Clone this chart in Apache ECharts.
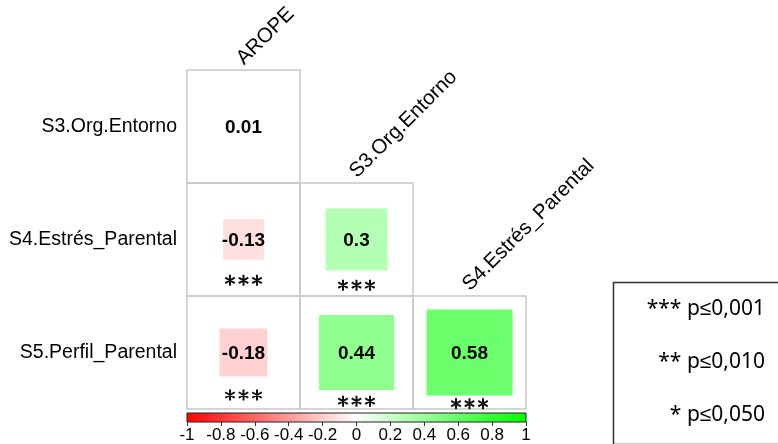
<!DOCTYPE html>
<html><head><meta charset="utf-8">
<script src="https://cdn.jsdelivr.net/npm/echarts@6/dist/echarts.min.js"></script>
<style>html,body{margin:0;padding:0;background:#fff}#c{width:778px;height:444px}</style>
</head><body><div id="c"></div>
<script>
const rowNames = ['S3.Org.Entorno', 'S4.Estrés_Parental', 'S5.Perfil_Parental'];
const colNames = ['AROPE', 'S3.Org.Entorno', 'S4.Estrés_Parental'];
const corrValues = [
  [0.01],
  [-0.13, 0.3],
  [-0.18, 0.44, 0.58]
];
const sigStars = [
  [0],
  [3, 3],
  [3, 3, 3]
];
const colorbarMin = -1, colorbarMax = 1, colorbarStep = 0.2;
const legendLabels = ['*** p≤0,001', '** p≤0,010', '* p≤0,050'];

const FONT = '"Liberation Sans", Arial, sans-serif';
const FONT2 = '"Noto Sans", sans-serif';

function corrColor(v) {
  const t = Math.min(1, Math.abs(v));
  const c = Math.round(255 * (1 - t));
  return v >= 0 ? `rgb(${c},255,${c})` : `rgb(255,${c},${c})`;
}

function starPath(cx, cy, r) {
  let d = '';
  [90, 30, 150].forEach(a => {
    const dx = r * Math.cos(a * Math.PI / 180), dy = r * Math.sin(a * Math.PI / 180);
    d += `M${cx - dx},${cy - dy}L${cx + dx},${cy + dy}`;
  });
  return d;
}

const cellData = [];
corrValues.forEach((row, i) => row.forEach((v, j) => cellData.push([j, i, v, sigStars[i][j]])));
const colLabelData = colNames.map((n, j) => [j, j, n]);

const chart = echarts.init(document.getElementById('c'));
chart.setOption({
  animation: false,
  backgroundColor: '#fff',
  grid: [
    { left: 187, top: 70, width: 339, height: 339 },
    { left: 187, top: 413, width: 339, height: 9 }
  ],
  xAxis: [
    { gridIndex: 0, type: 'category', data: colNames, show: false },
    { gridIndex: 1, type: 'value', min: colorbarMin, max: colorbarMax, interval: colorbarStep,
      axisLine: { show: false }, splitLine: { show: false },
      axisTick: { show: true, length: 4, lineStyle: { color: '#333', width: 1 } },
      axisLabel: { fontSize: 17, color: '#000', fontFamily: FONT, margin: 5,
        formatter: v => String(Math.round(v * 10) / 10) } }
  ],
  yAxis: [
    { gridIndex: 0, type: 'category', data: rowNames, inverse: true,
      axisLine: { show: false }, axisTick: { show: false }, splitLine: { show: false },
      axisLabel: { fontSize: 19.5, color: '#000', fontFamily: FONT, margin: 10 } },
    { gridIndex: 1, type: 'value', min: 0, max: 1, show: false }
  ],
  series: [
    {
      type: 'custom', xAxisIndex: 0, yAxisIndex: 0, data: cellData,
      renderItem: function (params, api) {
        const c = api.coord([api.value(0), api.value(1)]);
        const s = api.size([1, 1]);
        const v = api.value(2);
        const nStars = api.value(3);
        const side = Math.sqrt(Math.abs(v)) * s[0];
        const half = side / 2;
        const children = [
          { type: 'rect', shape: { x: c[0] - s[0] / 2, y: c[1] - s[1] / 2, width: s[0], height: s[1] },
            style: { fill: null, stroke: '#c8c8c8', lineWidth: 1.5 } },
          { type: 'rect', shape: { x: c[0] - half, y: c[1] - half, width: side, height: side },
            style: { fill: corrColor(v) } },
          { type: 'text', x: c[0], y: c[1] + 1,
            style: { text: String(v), font: 'bold 19px ' + FONT, fill: '#000', align: 'center', verticalAlign: 'middle' } }
        ];
        if (nStars > 0) {
          const sy = c[1] + half * 0.455 + 31.6;
          const gap = 13.5;
          let d = '';
          for (let k = 0; k < nStars; k++) {
            d += starPath(c[0] + (k - (nStars - 1) / 2) * gap, sy, 5.5);
          }
          children.push({ type: 'path', shape: { pathData: d },
            style: { fill: null, stroke: '#111', lineWidth: 2 } });
        }
        return { type: 'group', children };
      }
    },
    {
      type: 'custom', xAxisIndex: 0, yAxisIndex: 0, data: colLabelData,
      renderItem: function (params, api) {
        const c = api.coord([api.value(0), api.value(1)]);
        const s = api.size([1, 1]);
        return { type: 'text', x: c[0] + 4, y: c[1] - s[1] / 2 - 1, rotation: Math.PI / 4,
          style: { text: colLabelData[params.dataIndex][2], font: '20.5px ' + FONT, fill: '#000', align: 'left', verticalAlign: 'bottom' } };
      }
    },
    {
      type: 'custom', xAxisIndex: 1, yAxisIndex: 1, data: [[colorbarMin, colorbarMax]],
      renderItem: function (params, api) {
        const p0 = api.coord([api.value(0), 1]);
        const p1 = api.coord([api.value(1), 0]);
        return { type: 'rect', shape: { x: p0[0], y: p0[1], width: p1[0] - p0[0], height: p1[1] - p0[1] },
          style: { stroke: '#222', lineWidth: 1, fill: new echarts.graphic.LinearGradient(0, 0, 1, 0, [
            { offset: 0, color: corrColor(colorbarMin) },
            { offset: 0.5, color: corrColor(0) },
            { offset: 1, color: corrColor(colorbarMax) }
          ]) } };
      }
    }
  ],
  graphic: [
    { type: 'rect', left: 611, top: 280, shape: { width: 220, height: 162 },
      style: { fill: null, stroke: '#333', lineWidth: 1.5 } }
  ].concat(legendLabels.map((t, i) => ({
    type: 'text', x: 765, y: 309 + i * 53,
    style: { text: t, font: '21px ' + FONT2, fill: '#000', align: 'right', verticalAlign: 'middle' }
  })))
});
</script></body></html>
